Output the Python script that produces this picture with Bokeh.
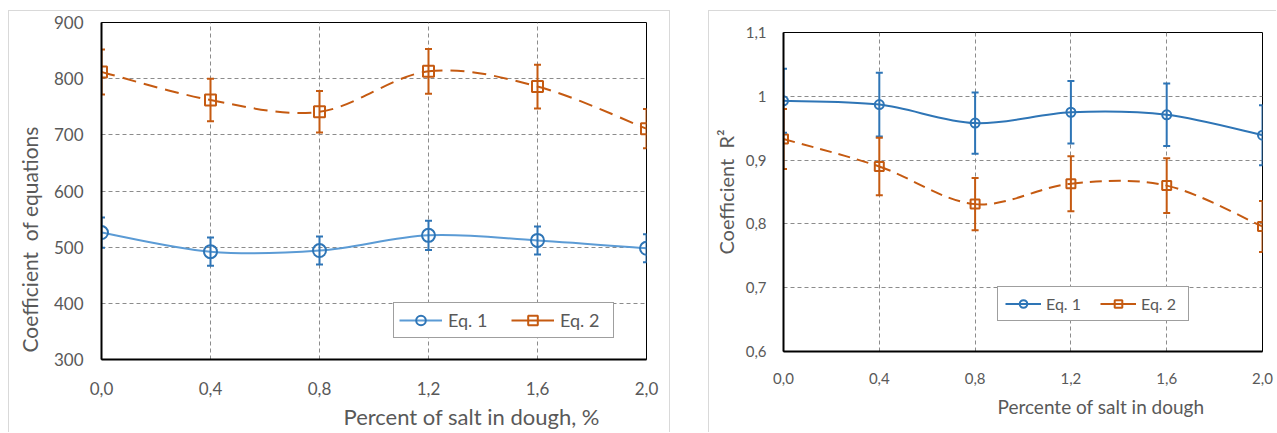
from bokeh.plotting import figure
from bokeh.models import (ColumnDataSource, Whisker, TeeHead, FixedTicker, Legend, LegendItem,
                          Title)
from bokeh.layouts import row
from bokeh.embed import file_html
from bokeh.resources import INLINE

# ---------------- data ----------------
salt = [0.0, 0.4, 0.8, 1.2, 1.6, 2.0]
salt_labels = ["0,0", "0,4", "0,8", "1,2", "1,6", "2,0"]

coef_eq1 = [526, 492, 494, 521, 512, 498]
coef_eq1_err = [27, 25, 25, 26, 25, 25]
coef_eq2 = [812, 762, 741, 813, 786, 711]
coef_eq2_err = [40, 38, 37, 40, 39, 35]
coef_ticks = [300, 400, 500, 600, 700, 800, 900]
coef_labels = ["300", "400", "500", "600", "700", "800", "900"]

r2_eq1 = [0.993, 0.987, 0.958, 0.975, 0.971, 0.939]
r2_eq1_err = [0.050, 0.050, 0.048, 0.049, 0.049, 0.047]
r2_eq2 = [0.933, 0.890, 0.831, 0.863, 0.860, 0.796]
r2_eq2_err = [0.047, 0.045, 0.041, 0.043, 0.043, 0.040]
r2_ticks = [0.6, 0.7, 0.8, 0.9, 1.0, 1.1]
r2_labels = ["0,6", "0,7", "0,8", "0,9", "1", "1,1"]

series_names = ["Eq. 1", "Eq. 2"]
left_xtitle = "Percent of salt in dough, %"
left_ytitle = "Coefficient\u00a0 of equations"
right_xtitle = "Percente of salt in dough"
right_ytitle = "Coefficient\u00a0 R\u00b2"

BLUE_LINE = "#5B9BD5"
BLUE = "#2E75B6"
ORANGE = "#C55A11"
TEXT = "#595959"
FONT = "Lato"
FRAME = "1px solid #d9d9d9"


def smooth_source(xs, ys):
    """Bezier control points (Catmull-Rom style, like spreadsheet smoothed lines)."""
    n = len(xs)
    d = dict(x0=[], y0=[], x1=[], y1=[], cx0=[], cy0=[], cx1=[], cy1=[])
    for i in range(n - 1):
        pm = max(i - 1, 0)
        pp = min(i + 2, n - 1)
        d["x0"].append(xs[i]); d["y0"].append(ys[i])
        d["x1"].append(xs[i + 1]); d["y1"].append(ys[i + 1])
        d["cx0"].append(xs[i] + (xs[i + 1] - xs[pm]) / 6.0)
        d["cy0"].append(ys[i] + (ys[i + 1] - ys[pm]) / 6.0)
        d["cx1"].append(xs[i + 1] - (xs[pp] - xs[i]) / 6.0)
        d["cy1"].append(ys[i + 1] - (ys[pp] - ys[i]) / 6.0)
    return ColumnDataSource(d)


def add_series(p, ys, errs, line_color, mark_color, marker, msize, dash, lw, cap):
    src = ColumnDataSource(dict(x=salt, y=ys,
                                upper=[v + e for v, e in zip(ys, errs)],
                                lower=[v - e for v, e in zip(ys, errs)]))
    p.bezier(x0="x0", y0="y0", x1="x1", y1="y1", cx0="cx0", cy0="cy0", cx1="cx1", cy1="cy1",
             source=smooth_source(salt, ys), line_color=line_color, line_width=lw, line_dash=dash)
    w = Whisker(base="x", upper="upper", lower="lower", source=src, level="glyph",
                line_color=mark_color, line_width=2,
                upper_head=TeeHead(size=cap, line_color=mark_color, line_width=2),
                lower_head=TeeHead(size=cap, line_color=mark_color, line_width=2))
    p.add_layout(w)
    # invisible solid line used only for the legend sample
    leg_line = p.line(x="x", y="y", source=src, line_color=line_color, line_width=2, visible=False)
    sc = p.scatter(x="x", y="y", source=src, marker=marker, size=msize,
                   line_color=mark_color, line_width=2, fill_color=None)
    return [leg_line, sc]


def style(p, xticks, xlabels, yticks, ylabels, tick_fs, xstand, ystand):
    if "frame_align" in p.properties():
        p.frame_align = False
    p.outline_line_color = "black"
    p.outline_line_width = 1
    p.outline_line_alpha = 1
    p.background_fill_color = "white"
    p.border_fill_color = "white"
    p.xaxis.ticker = FixedTicker(ticks=xticks)
    p.yaxis.ticker = FixedTicker(ticks=yticks)
    p.xaxis.major_label_overrides = dict(zip(xticks, xlabels))
    p.yaxis.major_label_overrides = dict(zip(yticks, ylabels))
    p.xgrid.ticker = FixedTicker(ticks=xticks)
    p.ygrid.ticker = FixedTicker(ticks=yticks)
    for g in (p.xgrid, p.ygrid):
        g.grid_line_color = "#8c8c8c"
        g.grid_line_dash = "4 3"
        g.grid_line_width = 1
    for ax in (p.xaxis, p.yaxis):
        ax.axis_line_color = "black"
        ax.axis_line_width = 2
        ax.major_tick_in = 0
        ax.major_tick_out = 0
        ax.minor_tick_in = 0
        ax.minor_tick_out = 0
        ax.major_label_text_font = FONT
        ax.major_label_text_font_size = tick_fs
        ax.major_label_text_color = TEXT
        ax.axis_label_text_font = FONT
        ax.axis_label_text_color = TEXT
        ax.axis_label_text_font_style = "normal"
    p.xaxis.major_label_standoff = xstand
    p.yaxis.major_label_standoff = ystand


def side_title(p, text, side, size, offset, standoff, valign="bottom"):
    t = Title(text=text, align="left", offset=offset, standoff=standoff, vertical_align=valign,
              text_font=FONT, text_font_size=size, text_color=TEXT, text_font_style="normal")
    p.add_layout(t, side)


# ---------------- left chart ----------------
p1 = figure(width=662, height=422, x_range=(0, 2), y_range=(300, 900),
            output_backend="svg", toolbar_location=None,
            min_border_left=92, min_border_right=25, min_border_top=11, min_border_bottom=74)
style(p1, salt, salt_labels, coef_ticks, coef_labels, "17px", 22, 18)
r1 = add_series(p1, coef_eq1, coef_eq1_err, BLUE_LINE, BLUE, "circle", 13, "solid", 2, 7)
r2 = add_series(p1, coef_eq2, coef_eq2_err, ORANGE, ORANGE, "square", 11, "14 8", 2, 7)
# axis titles, placed off-centre along the axes as in the original
side_title(p1, left_xtitle, "below", "22px", 242, 6)
side_title(p1, left_ytitle, "left", "21px", 7, 14, valign="top")
leg1 = Legend(items=[LegendItem(label=series_names[0], renderers=r1),
                     LegendItem(label=series_names[1], renderers=r2)],
              location=(292, 21), orientation="horizontal",
              padding=5, spacing=15, glyph_width=43, glyph_height=24,
              label_standoff=6, label_width=48,
              label_text_font=FONT, label_text_font_size="18px", label_text_color=TEXT,
              border_line_color="#404040", border_line_width=1, background_fill_alpha=1,
              inactive_fill_alpha=0, margin=0)
p1.add_layout(leg1)
p1.styles = {"border-top": FRAME, "border-left": FRAME, "border-right": FRAME}

# ---------------- right chart ----------------
p2 = figure(width=568, height=422, x_range=(0, 2), y_range=(0.6, 1.1),
            output_backend="svg", toolbar_location=None,
            min_border_left=74, min_border_right=15, min_border_top=21, min_border_bottom=82,
            y_axis_label=right_ytitle)
style(p2, salt, salt_labels, r2_ticks, r2_labels, "15px", 21, 17)
p2.yaxis.axis_label_text_font_size = "20px"
p2.yaxis.axis_label_standoff = 5
q1 = add_series(p2, r2_eq1, r2_eq1_err, BLUE, BLUE, "circle", 9, "solid", 2, 7)
q2 = add_series(p2, r2_eq2, r2_eq2_err, ORANGE, ORANGE, "square", 9, "12 7", 2, 7)
side_title(p2, right_xtitle, "below", "19px", 214, 12)
leg2 = Legend(items=[LegendItem(label=series_names[0], renderers=q1),
                     LegendItem(label=series_names[1], renderers=q2)],
              location=(214, 30), orientation="horizontal",
              padding=7, spacing=14, glyph_width=36, glyph_height=19,
              label_standoff=5, label_width=40,
              label_text_font=FONT, label_text_font_size="16px", label_text_color=TEXT,
              border_line_color="#404040", border_line_width=1, background_fill_alpha=1,
              inactive_fill_alpha=0, margin=0)
p2.add_layout(leg2)
p2.styles = {"border-top": FRAME, "border-left": FRAME}

layout = row(p1, p2, spacing=38, margin=(10, 0, 0, 8))
open("out.html", "w").write(file_html(layout, INLINE))
